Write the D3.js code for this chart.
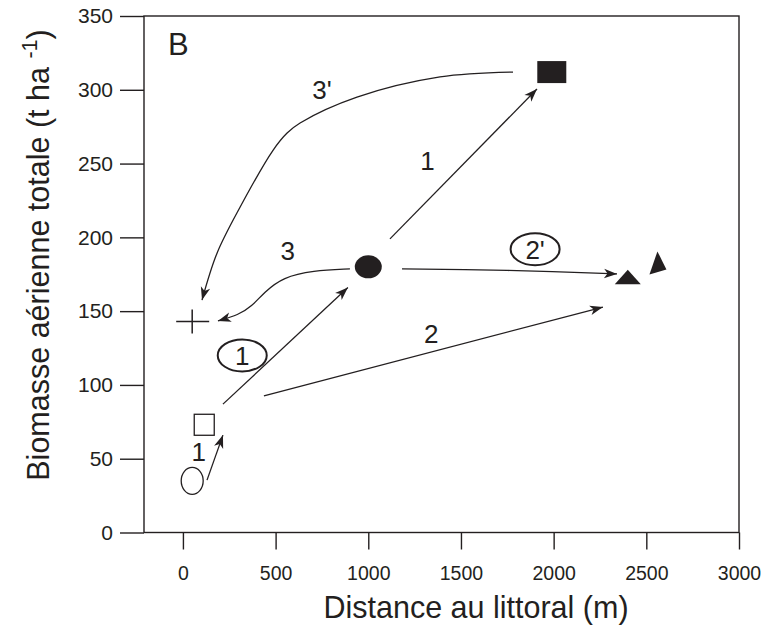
<!DOCTYPE html>
<html>
<head>
<meta charset="utf-8">
<script src="https://cdn.jsdelivr.net/npm/d3@7"></script>
<style>
  body { margin: 0; background: #fff; }
  svg text { font-family: "Liberation Sans", Arial, sans-serif; fill: #231f20; }
</style>
</head>
<body>
<div id="wrapper"></div>
<script>
// axis ticks
const xTicks = [0, 500, 1000, 1500, 2000, 2500, 3000]
const yTicks = [0, 50, 100, 150, 200, 250, 300, 350]

// stations along the transect
const siteSymbols = ["ellipse", "openSquare", "plus", "filledCircle", "filledSquare", "triangle", "triangleTilt"]
const siteDist = [50, 115, 50, 1000, 1990, 2400, 2560]
const siteBiomass = [35, 73, 143, 180, 312, 172, 181]

// arrows (distance, biomass) along each path
const arrowNames = ["1low", "1circ", "1up", "2", "2prime", "3", "3prime"]
const arrowPaths = [
  [[130, 35.5], [216, 66]],
  [[216, 87], [890, 166]],
  [[1117, 199], [1910, 300.5]],
  [[437, 92.5], [2266, 152.8]],
  [[1182, 178.6], [1750, 177.6], [2342, 175.2]],
  [[901, 178.6], [700, 177.5], [540, 173], [440, 163], [370, 153], [300, 147.5], [189, 143.4]],
  [[1781, 312], [1387, 308.7], [939, 295], [632, 277.5], [562, 270.7], [486, 259], [308, 220.4], [184, 189.3], [103, 157.5]]
]

// path labels
const labelText = ["3'", "1", "3", "2", "1", "1", "2'"]
const labelDist = [750, 1320, 565, 1340, 85, 320, 1900]
const labelBiomass = [300, 252, 191, 135, 55, 120, 192]
const labelCircled = [false, false, false, false, false, true, true]

const dimensions = {
  width: 761,
  height: 627,
  margin: { top: 16, right: 22, bottom: 94.5, left: 144 }
}
dimensions.boundedWidth = dimensions.width - dimensions.margin.left - dimensions.margin.right
dimensions.boundedHeight = dimensions.height - dimensions.margin.top - dimensions.margin.bottom

const svg = d3.select("#wrapper")
  .append("svg")
    .attr("width", dimensions.width)
    .attr("height", dimensions.height)

const bounds = svg.append("g")
  .attr("transform", `translate(${dimensions.margin.left}, ${dimensions.margin.top})`)

const xScale = d3.scaleLinear()
  .domain([-210, 3000])
  .range([0, dimensions.boundedWidth])

const yScale = d3.scaleLinear()
  .domain([0, 350])
  .range([dimensions.boundedHeight, 0])

const ink = "#231f20"

// frame
bounds.append("rect")
  .attr("width", dimensions.boundedWidth)
  .attr("height", dimensions.boundedHeight)
  .attr("fill", "none")
  .attr("stroke", ink)
  .attr("stroke-width", 1.4)

const xAxis = d3.axisBottom(xScale).tickValues(xTicks).tickFormat(d3.format("d")).tickSize(17).tickPadding(17)
const yAxis = d3.axisLeft(yScale).tickValues(yTicks).tickFormat(d3.format("d")).tickSize(24).tickPadding(7)

const xAxisGroup = bounds.append("g")
  .attr("transform", `translate(0, ${dimensions.boundedHeight})`)
  .call(xAxis)
const yAxisGroup = bounds.append("g").call(yAxis)

for (const g of [xAxisGroup, yAxisGroup]) {
  g.select(".domain").remove()
  g.selectAll(".tick line").attr("stroke", ink).attr("stroke-width", 1.4)
  g.selectAll(".tick text").attr("fill", ink)
    .style("font-family", "'Liberation Sans', Arial, sans-serif")
}
xAxisGroup.selectAll(".tick text").attr("font-size", 19.5)
yAxisGroup.selectAll(".tick text").attr("font-size", 21)

// axis titles
svg.append("text")
  .attr("x", 476)
  .attr("y", 618)
  .attr("text-anchor", "middle")
  .attr("font-size", 30.5)
  .text("Distance au littoral (m)")

const yTitle = svg.append("text")
  .attr("transform", "translate(49, 255) rotate(-90)")
  .attr("text-anchor", "middle")
  .attr("font-size", 30.5)
yTitle.append("tspan").text("Biomasse aérienne totale (t ha ")
yTitle.append("tspan").attr("dy", -12).attr("font-size", 21.5).text("-1")
yTitle.append("tspan").attr("dy", 12).text(")")

// panel letter
bounds.append("text")
  .attr("x", 24)
  .attr("y", 39)
  .attr("font-size", 31)
  .text("B")

// arrowhead
svg.append("defs").append("marker")
  .attr("id", "head")
  .attr("viewBox", "-14 -6 15 12")
  .attr("refX", 0)
  .attr("refY", 0)
  .attr("markerWidth", 15)
  .attr("markerHeight", 12)
  .attr("markerUnits", "userSpaceOnUse")
  .attr("orient", "auto")
  .append("path")
    .attr("d", "M0,0 L-13,-4.8 L-9.5,0 L-13,4.8 Z")
    .attr("fill", ink)

const line = d3.line()
  .x(d => xScale(d[0]))
  .y(d => yScale(d[1]))
  .curve(d3.curveCatmullRom.alpha(0.5))

const smoothLine = d3.line()
  .x(d => xScale(d[0]))
  .y(d => yScale(d[1]))
  .curve(d3.curveBasis)

bounds.append("g").selectAll("path")
  .data(arrowPaths)
  .enter().append("path")
    .attr("class", (d, i) => "arrow-" + arrowNames[i])
    .attr("d", (d, i) => arrowNames[i] === "3" ? smoothLine(d) : line(d))
    .attr("fill", "none")
    .attr("stroke", ink)
    .attr("stroke-width", 1.3)
    .attr("marker-end", "url(#head)")

// labels
const labels = bounds.append("g").selectAll("g")
  .data(labelText)
  .enter().append("g")
    .attr("transform", (d, i) => `translate(${xScale(labelDist[i])}, ${yScale(labelBiomass[i])})`)

labels.filter((d, i) => labelCircled[i]).append("ellipse")
  .attr("rx", 24.5)
  .attr("ry", 16)
  .attr("fill", "none")
  .attr("stroke", ink)
  .attr("stroke-width", 2)

labels.append("text")
  .attr("text-anchor", "middle")
  .attr("dy", "0.36em")
  .attr("font-size", 26)
  .text(d => d)

// station symbols
const sites = bounds.append("g").selectAll("g")
  .data(siteSymbols)
  .enter().append("g")
    .attr("transform", (d, i) => `translate(${xScale(siteDist[i])}, ${yScale(siteBiomass[i])})`)

sites.each(function(d) {
  const g = d3.select(this)
  if (d === "ellipse") {
    g.append("ellipse").attr("rx", 11).attr("ry", 13.5)
      .attr("fill", "none").attr("stroke", ink).attr("stroke-width", 1.3)
  } else if (d === "openSquare") {
    g.append("rect").attr("x", -10).attr("y", -10.5).attr("width", 20).attr("height", 21)
      .attr("fill", "none").attr("stroke", ink).attr("stroke-width", 1.3)
  } else if (d === "plus") {
    g.append("path").attr("d", "M-16,0 H17 M0,-12 V12")
      .attr("stroke", ink).attr("stroke-width", 1.5)
  } else if (d === "filledCircle") {
    g.append("ellipse").attr("rx", 13.5).attr("ry", 11.5).attr("fill", ink)
  } else if (d === "filledSquare") {
    g.append("rect").attr("x", -14.5).attr("y", -11).attr("width", 29).attr("height", 22).attr("fill", ink)
  } else if (d === "triangle") {
    g.append("path").attr("d", "M0,-9 L13,5.5 L-13,5.5 Z").attr("fill", ink)
  } else if (d === "triangleTilt") {
    g.append("path").attr("d", "M0,-14 L9,4 L-8,9 Z").attr("fill", ink)
  }
})
</script>
</body>
</html>
